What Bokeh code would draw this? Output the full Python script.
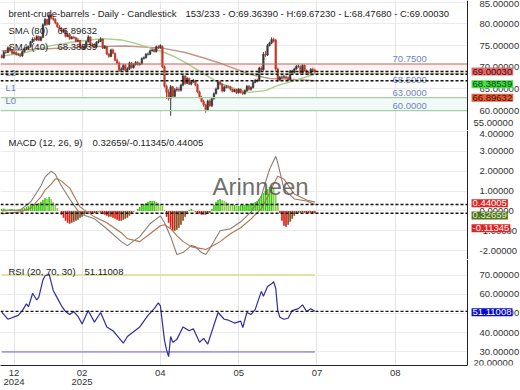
from bokeh.plotting import figure
from bokeh.layouts import column
from bokeh.models import (Range1d, LinearAxis, FixedTicker, PrintfTickFormatter, Grid,
                          Span, Label, BoxAnnotation, ColumnDataSource)
from bokeh.embed import file_html
from bokeh.resources import INLINE

FONT = "Liberation Sans"
FS = "9.5px"

# ---------------- data ----------------
opens = [72.6, 72.2, 73.5, 73.4, 74.5, 73.9, 73.2, 73.4, 72.9, 72.9,
         72.6, 73.6, 74.2, 74.4, 74.7, 75.9, 76.5, 76.3, 77.1, 76.2,
         76.9, 79.8, 81.0, 79.9, 82.0, 81.3, 81.1, 80.2, 79.3, 79.0,
         78.3, 78.5, 77.1, 77.5, 76.6, 76.9, 76.8, 76.0, 76.2, 74.6,
         74.3, 74.7, 75.9, 77.0, 75.2, 75.0, 74.7, 75.8, 76.0, 76.5,
         74.4, 74.8, 73.0, 72.5, 74.0, 73.2, 71.6, 71.0, 69.3, 69.5,
         70.4, 69.3, 69.6, 71.0, 69.9, 70.6, 71.1, 70.6, 70.8, 72.0,
         72.2, 73.0, 73.0, 73.8, 74.0, 73.6, 74.7, 74.5, 74.8, 70.1,
         65.6, 64.2, 62.8, 65.5, 63.3, 64.8, 64.9, 64.7, 65.9, 68.0,
         66.3, 67.4, 66.1, 66.6, 66.9, 65.9, 64.3, 63.1, 62.1, 61.3,
         60.2, 62.2, 61.1, 62.8, 63.9, 65.0, 66.6, 66.1, 64.5, 65.4,
         65.5, 65.4, 64.9, 64.4, 64.8, 64.1, 64.9, 64.2, 63.9, 64.6,
         65.6, 64.9, 65.3, 66.5, 67.0, 66.9, 69.8, 69.4, 73.0, 72.8,
         75.0, 75.6, 76.4, 76.2, 69.6, 67.1, 67.7, 67.7, 67.8, 67.6,
         67.1, 69.1, 68.8, 69.6, 70.2, 70.2, 68.6, 70.4, 69.2, 68.7,
         68.5, 69.5, 69.3639]
highs = [73.0, 73.8, 73.9, 74.8, 74.7, 74.1, 73.8, 73.7, 73.3, 73.2,
         73.9, 74.5, 74.8, 75.0, 76.1, 76.9, 77.0, 77.4, 77.3, 77.2,
         80.1, 81.4, 81.2, 82.6, 82.3, 81.8, 81.3, 80.4, 79.7, 79.2,
         78.9, 78.7, 77.9, 77.7, 77.2, 77.3, 77.0, 76.7, 76.3, 74.9,
         75.1, 76.1, 77.4, 77.1, 75.6, 75.5, 76.0, 76.4, 76.9, 76.6,
         75.1, 74.9, 73.3, 74.3, 74.3, 73.4, 72.0, 71.3, 70.0, 70.8,
         70.7, 70.0, 71.3, 71.2, 70.9, 71.4, 71.4, 71.1, 72.3, 72.5,
         73.3, 73.4, 74.1, 74.3, 74.3, 75.0, 75.1, 75.3, 75.0, 70.4,
         66.0, 64.9, 65.9, 65.7, 65.2, 65.5, 65.4, 66.2, 68.3, 68.1,
         67.8, 67.6, 66.9, 67.3, 67.1, 66.2, 64.6, 63.4, 62.5, 61.6,
         62.5, 62.6, 63.1, 64.2, 65.3, 66.9, 66.9, 66.3, 65.8, 65.9,
         65.8, 65.7, 65.1, 65.0, 65.0, 65.2, 65.1, 64.5, 64.9, 65.9,
         65.9, 65.6, 66.8, 67.3, 67.4, 70.1, 70.2, 73.5, 73.8, 75.4,
         75.9, 76.9, 76.8, 76.6, 69.9, 68.0, 68.1, 68.2, 68.1, 67.9,
         69.4, 69.4, 69.9, 70.5, 70.6, 70.4, 70.7, 70.6, 69.5, 69.0,
         69.8, 69.9, 69.6723]
lows = [72.0, 72.0, 73.1, 73.3, 73.6, 73.0, 73.0, 72.7, 72.6, 72.3,
        72.4, 73.4, 74.0, 74.2, 74.5, 75.6, 75.9, 76.1, 76.0, 76.0,
        76.7, 79.5, 79.6, 79.7, 81.0, 80.7, 79.9, 79.1, 78.7, 78.1,
        78.0, 76.9, 76.9, 76.3, 76.4, 76.5, 75.7, 75.8, 74.4, 74.0,
        74.1, 74.5, 75.7, 75.0, 74.8, 74.4, 74.5, 75.5, 75.8, 74.2,
        74.2, 72.8, 72.2, 72.3, 73.0, 71.4, 70.7, 68.9, 68.9, 69.3,
        69.0, 69.1, 69.4, 69.7, 69.7, 70.4, 70.4, 70.4, 70.6, 71.8,
        72.0, 72.7, 72.8, 73.6, 73.4, 73.4, 74.2, 74.3, 69.8, 65.3,
        62.7, 62.3, 58.8, 62.9, 63.0, 64.4, 64.3, 64.4, 65.6, 66.0,
        66.1, 65.9, 65.8, 66.4, 65.6, 64.0, 62.8, 61.9, 60.9, 59.5,
        60.0, 60.9, 60.8, 62.5, 63.7, 64.8, 65.8, 64.2, 64.3, 65.1,
        65.1, 64.6, 64.2, 64.2, 63.8, 63.9, 63.9, 63.6, 63.7, 64.4,
        64.6, 64.6, 65.1, 66.3, 66.5, 66.7, 69.0, 69.2, 72.4, 72.6,
        74.8, 75.3, 75.7, 69.2, 66.6, 66.8, 67.3, 67.4, 67.3, 66.8,
        66.9, 68.5, 68.6, 69.4, 69.9, 68.4, 68.4, 69.0, 68.5, 68.2,
        68.3, 69.1, 68.4768]
closes = [72.2, 73.5, 73.4, 74.5, 73.9, 73.2, 73.4, 72.9, 72.9, 72.6,
          73.6, 74.2, 74.4, 74.6, 75.9, 76.5, 76.3, 77.1, 76.2, 76.9,
          79.8, 81.0, 79.9, 82.0, 81.3, 81.1, 80.2, 79.3, 79.0, 78.3,
          78.5, 77.1, 77.5, 76.6, 76.9, 76.8, 76.0, 76.2, 74.6, 74.3,
          74.7, 75.9, 77.0, 75.2, 75.0, 74.7, 75.8, 76.0, 76.5, 74.4,
          74.8, 73.0, 72.5, 74.0, 73.2, 71.6, 71.0, 69.3, 69.5, 70.4,
          69.3, 69.6, 71.0, 69.9, 70.6, 71.1, 70.6, 70.8, 72.0, 72.2,
          73.0, 73.0, 73.8, 74.0, 73.6, 74.7, 74.5, 75.0, 70.1, 65.6,
          64.2, 62.8, 65.5, 63.3, 64.8, 64.9, 64.7, 65.9, 68.0, 66.3,
          67.4, 66.1, 66.6, 66.9, 65.9, 64.3, 63.1, 62.1, 61.3, 60.2,
          62.2, 61.1, 62.8, 63.9, 65.0, 66.6, 66.1, 64.5, 65.4, 65.5,
          65.4, 64.9, 64.4, 64.8, 64.1, 64.9, 64.2, 63.9, 64.6, 65.6,
          64.9, 65.3, 66.5, 67.0, 66.9, 69.8, 69.4, 73.0, 72.8, 75.0,
          75.6, 76.4, 76.0, 69.6, 67.1, 67.7, 67.7, 67.8, 67.6, 67.1,
          69.1, 68.8, 69.6, 70.2, 70.2, 68.6, 70.4, 69.2, 68.7, 68.5,
          69.5, 69.3, 69.0003]

sma40_idx = [0, 10, 24, 37, 49, 58, 65, 73, 79, 84, 89, 97, 105, 113, 120, 128, 134, 142, 152]
sma40 = [72.6, 73.2, 75.0, 76.0, 76.6, 76.3, 75.5, 74.3, 73.4, 72.4, 71.1, 68.8, 66.5, 65.1,
         64.2, 64.6, 65.8, 66.9, 68.38539]
sma80_idx = [0, 20, 40, 60, 78, 89, 97, 105, 113, 121, 130, 137, 145, 152]
sma80 = [73.8, 74.2, 74.7, 74.9, 74.4, 73.4, 72.3, 71.1, 69.7, 68.3, 67.4, 67.3, 67.1, 66.89632]

macd_idx = [0, 4, 9, 14, 19, 21, 24, 26, 27, 29, 33, 38, 45, 51, 58, 61, 67, 72, 77, 79,
            82, 85, 88, 92, 94, 97, 99, 101, 106, 111, 116, 121, 126, 130, 133, 134, 137, 142, 148, 152]
macd_line = [0.0, 0.02, 0.05, 0.45, 1.25, 1.7, 2.0, 1.85, 1.65, 1.25, 0.6, -0.15, -0.4, -0.9, -1.55,
             -1.75, -1.3, -0.65, -0.25, -0.6, -1.3, -2.2, -2.1, -1.75, -1.8, -2.1, -2.2, -1.9, -1.0,
             -0.9, -0.55, -0.05, 0.75, 2.1, 2.75, 2.4, 1.1, 0.6, 0.5, 0.32659]
signal_line = [-0.15, -0.1, -0.05, 0.12, 0.7, 1.05, 1.35, 1.6, 1.62, 1.5, 1.15, 0.2, -0.3, -0.6, -1.1,
               -1.4, -1.55, -1.15, -0.75, -0.7, -0.9, -1.25, -1.55, -1.8, -1.85, -1.9, -1.95, -1.85,
               -1.55, -1.15, -0.85, -0.4, 0.1, 0.9, 1.55, 1.75, 1.6, 0.85, 0.55, 0.44005]
hist = [0.10, 0.12, 0.10, 0.08, 0.10, 0.10, 0.08, 0.05, 0.06, 0.08,
        0.10, 0.15, 0.20, 0.25, 0.30, 0.30, 0.35, 0.35, 0.40, 0.45,
        0.55, 0.65, 0.60, 0.70, 0.60, 0.45, 0.30, 0.15, 0.00, -0.20,
        -0.35, -0.50, -0.60, -0.65, -0.60, -0.55, -0.50, -0.45, -0.35, -0.30,
        -0.20, -0.10, -0.05, -0.10, -0.15, -0.12, -0.10, -0.05, -0.08, -0.15,
        -0.20, -0.25, -0.30, -0.30, -0.35, -0.40, -0.45, -0.50, -0.50, -0.45,
        -0.40, -0.35, -0.25, -0.15, -0.05, 0.00, 0.10, 0.20, 0.30, 0.35,
        0.40, 0.45, 0.50, 0.50, 0.50, 0.45, 0.40, 0.35, 0.25, 0.05,
        -0.30, -0.60, -0.85, -1.00, -1.00, -0.95, -0.85, -0.70, -0.50, -0.30,
        -0.10, 0.05, 0.10, 0.05, -0.05, -0.10, -0.15, -0.20, -0.20, -0.20,
        -0.15, -0.10, 0.10, 0.30, 0.45, 0.55, 0.60, 0.55, 0.50, 0.45,
        0.40, 0.35, 0.30, 0.30, 0.25, 0.25, 0.30, 0.30, 0.30, 0.35,
        0.35, 0.40, 0.40, 0.45, 0.50, 0.60, 0.75, 0.90, 1.00, 1.10,
        1.20, 1.25, 1.15, 0.90, 0.40, -0.10, -0.50, -0.75, -0.80, -0.70,
        -0.55, -0.40, -0.25, -0.15, -0.10, -0.10, -0.08, -0.10, -0.10, -0.12,
        -0.10, -0.12, -0.11345]

rsi_idx = [0, 3, 8, 10, 12, 13, 15, 17, 18, 20, 21, 23, 25, 27, 29, 31, 33, 35, 37, 39,
           42, 45, 48, 51, 54, 56, 59, 61, 64, 67, 71, 74, 76, 77, 78, 79, 80, 81, 82, 83,
           85, 88, 91, 93, 96, 98, 100, 103, 105, 108, 110, 113, 116, 117, 119, 121, 123, 126,
           127, 129, 131, 132, 133, 134, 135, 137, 139, 141, 144, 146, 148, 150, 152]
rsi_vals = [50.7, 47.0, 49.0, 51.5, 55.0, 53.5, 60.5, 57.0, 58.5, 67.5, 69.5, 70.5, 62.0, 58.0,
            54.0, 51.0, 49.5, 51.0, 48.5, 44.5, 51.5, 45.5, 50.5, 43.0, 41.0, 38.5, 34.5, 38.0,
            40.5, 43.0, 49.0, 52.5, 55.5, 54.0, 45.0, 36.0, 31.0, 27.5, 38.0, 35.0, 36.5, 43.0,
            41.0, 42.0, 35.0, 37.0, 34.0, 44.0, 50.5, 47.0, 46.5, 45.0, 46.0, 42.7, 50.5, 49.5,
            52.0, 61.5, 59.0, 64.0, 65.5, 66.5, 63.0, 51.5, 48.0, 47.0, 47.5, 51.5, 52.5, 54.5,
            51.0, 52.5, 51.11008]

levels = [70.75, 68.5, 63.0, 60.0]
level_tags = ["", "L2", "L1", "L0"]
rsi_upper, rsi_lower = 70, 30

last_close, last_sma40, last_sma80 = 69.00030, 68.38539, 66.89632
last_macd, last_hist, last_signal = 0.32659, -0.11345, 0.44005
last_rsi = 51.11008

price_ticks = [60, 65, 70, 75, 80, 85]
macd_ticks = [-2, -1, 0, 1, 2, 3, 4]
rsi_ticks = [30, 40, 50, 60, 70]
xtick_pos = [6, 39, 77, 115, 153, 191]
xtick_labels = ["12", "02", "04", "05", "07", "08"]
year_pos = [6, 39]
year_labels = ["2024", "2025"]

# ---------------- styles / geometry ----------------
UP, DOWN = "#3a3a3a", "#c0392b"
AXIS_X = 226.1                      # bar slot where the value axis stands
xr = Range1d(-0.6, 251.8)


def base_fig(fh, yr, yticks):
    p = figure(frame_width=520, frame_height=fh, x_range=xr, y_range=Range1d(*yr),
               output_backend="svg", toolbar_location=None,
               x_axis_location=None, y_axis_location=None,
               min_border_left=0, min_border_right=0, min_border_top=0, min_border_bottom=0)
    p.outline_line_color = None
    p.background_fill_color = "white"
    p.border_fill_color = "white"
    for g in p.grid:
        g.visible = False
    p.add_layout(Grid(dimension=0, ticker=FixedTicker(ticks=xtick_pos), grid_line_color="#e4e4e4"))
    p.add_layout(Grid(dimension=1, ticker=FixedTicker(ticks=yticks), grid_line_color="#ececec"))
    return p


def value_axis(p, yticks):
    # white mask over the label strip, then the axis drawn on top of it
    p.add_layout(BoxAnnotation(left=AXIS_X, fill_color="white", fill_alpha=1.0, line_color=None))
    ax = LinearAxis(ticker=FixedTicker(ticks=yticks), formatter=PrintfTickFormatter(format="%.5f"),
                    fixed_location=AXIS_X,
                    axis_line_color="#222222", major_tick_line_color=None, minor_tick_line_color=None,
                    major_label_standoff=6, major_label_text_font=FONT, major_label_text_font_size=FS,
                    major_label_text_color="#333333")
    ax.level = "overlay"
    p.add_layout(ax, "right")


def separator(p):
    sep = LinearAxis(ticker=FixedTicker(ticks=[]), axis_line_color="#222222",
                     major_tick_line_color=None, minor_tick_line_color=None,
                     major_label_text_font_size="0px", major_label_standoff=0,
                     major_tick_out=0, major_tick_in=0)
    p.add_layout(sep, "below")


def txt(p, text, x, y, color="#222222", size=FS, **kw):
    p.add_layout(Label(x=x, y=y, x_units="screen", y_units="screen", text=text, text_font=FONT,
                       text_font_size=size, text_color=color, text_baseline="middle", **kw))


def badge(p, val, off, bg, fg):
    p.add_layout(Label(x=AXIS_X, y=val, x_offset=4, y_offset=off, text="%.5f" % val,
                       text_font=FONT, text_font_size=FS, text_color=fg, text_baseline="middle",
                       background_fill_color=bg, padding=1, level="overlay"))


def edge_label(p, text, y, off):
    p.add_layout(Label(x=AXIS_X, y=y, x_offset=6, y_offset=off, text=text, text_font=FONT,
                       text_font_size=FS, text_color="#333333", text_baseline="middle",
                       level="overlay"))


# ---------------- price panel ----------------
p1 = base_fig(130, (55.4, 85.4), price_ticks)
separator(p1)
p1.add_layout(BoxAnnotation(bottom=levels[1], top=levels[0], fill_color="#fff0f2", fill_alpha=1.0,
                            line_color=None, level="underlay"))
p1.add_layout(BoxAnnotation(bottom=levels[3], top=levels[2], fill_color="#f1faf8", fill_alpha=1.0,
                            line_color=None, level="underlay"))

p1.line(sma80_idx, sma80, line_color="#c4968a", line_width=1.4)
p1.line(sma40_idx, sma40, line_color="#a9cc8c", line_width=1.4)

body_top = [max(o, c) for o, c in zip(opens, closes)]
body_bot = [min(o, c) for o, c in zip(opens, closes)]
cand_col = [UP if c >= o else DOWN for o, c in zip(opens, closes)]
src = ColumnDataSource(dict(x=list(range(len(closes))), h=highs, l=lows, top=body_top,
                            bot=body_bot, col=cand_col))
p1.segment(x0="x", y0="l", x1="x", y1="h", line_color="col", line_width=1, source=src)
p1.vbar(x="x", width=0.8, top="top", bottom="bot", fill_color="col", line_color="col",
        line_width=0.5, source=src)

level_cols = ["#b9675a", "#9fd49f", "#9fd49f", "#9fd49f"]
level_text_off = [2, -9, 2, 2]
level_tag_off = [0, -4, 5, 5]
for v, tag, col, to, go in zip(levels, level_tags, level_cols, level_text_off, level_tag_off):
    p1.add_layout(Span(location=v, dimension="width", line_color=col, line_width=1.2))
    p1.add_layout(Label(x=189.7, y=v, y_offset=to, text="%.4f" % v, text_font=FONT,
                        text_font_size=FS, text_color="#7183bf", text_baseline="bottom"))
    if tag:
        p1.add_layout(Label(x=5, y=v, x_units="screen", y_offset=go, text=tag, text_font=FONT,
                            text_font_size=FS, text_color="#6f7fb3", text_baseline="bottom"))

for v in (last_close, last_sma40, last_sma80):
    p1.add_layout(Span(location=v, dimension="width", line_color="#111111", line_width=1.5,
                       line_dash="3 2"))

txt(p1, "brent-crude-barrels - Daily - Candlestick", 8, 117)
txt(p1, "153/233 - O:69.36390 - H:69.67230 - L:68.47680 - C:69.00030", 185, 117)
txt(p1, "SMA (80)", 8, 100)
txt(p1, "%.5f" % last_sma80, 57, 100)
txt(p1, "SMA (40)", 8, 84)
txt(p1, "%.5f" % last_sma40, 57, 84)

value_axis(p1, price_ticks)
edge_label(p1, "55.00000", 55.4, 8)
badge(p1, last_close, 0, "#e46a6a", "#4a0a0a")
badge(p1, last_sma40, -10, "#44dd44", "#0a3a0a")
badge(p1, last_sma80, -17, "#e2603e", "#4a0a00")

# ---------------- MACD panel ----------------
p2 = base_fig(129, (-2.45, 4.05), macd_ticks)
separator(p2)
hcol = []
for i, h in enumerate(hist):
    prev = hist[i - 1] if i > 0 else h
    if h >= 0:
        hcol.append("#3fcc10" if h >= prev else "#8fd052")
    else:
        hcol.append("#e01a10" if h < prev else "#8a4a1e")
hsrc = ColumnDataSource(dict(x=list(range(len(hist))), top=hist, col=hcol))
p2.vbar(x="x", width=0.8, top="top", bottom=0, fill_color="col", line_color=None, source=hsrc)
p2.line(macd_idx, signal_line, line_color="#b07348", line_width=1.1)
p2.line(macd_idx, macd_line, line_color="#8a7c72", line_width=1.1)
for v in (last_macd, last_hist):
    p2.add_layout(Span(location=v, dimension="width", line_color="#111111", line_width=1.5,
                       line_dash="3 2"))
p2.add_layout(Label(x=212, y=60, x_units="screen", y_units="screen", text="Arinneen",
                    text_font=FONT, text_font_size="24px", text_color="#555555", text_alpha=0.85))
txt(p2, "MACD (12, 26, 9)", 8, 117)
txt(p2, "%.5f/%.5f/%.5f" % (last_macd, last_hist, last_signal), 92, 117)
value_axis(p2, macd_ticks)
badge(p2, last_signal, -1, "#e52222", "#ffffff")
badge(p2, last_macd, -11, "#54731f", "#dff2c8")
badge(p2, last_hist, -15, "#e52222", "#ffffff")

# ---------------- RSI panel ----------------
p3 = base_fig(106, (22.9, 78.1), rsi_ticks)
ends = [0, len(closes) - 1]
p3.line(ends, [rsi_upper] * 2, line_color="#e6e0a6", line_width=2)
p3.line(ends, [rsi_lower] * 2, line_color="#a796ee", line_width=1.6)
p3.line(rsi_idx, rsi_vals, line_color="#2e2e9e", line_width=1.2)
p3.add_layout(Span(location=last_rsi, dimension="width", line_color="#111111", line_width=1.2,
                   line_dash="3 2"))
txt(p3, "RSI (20, 70, 30)", 8, 94)
txt(p3, "%.5f" % last_rsi, 84, 94)
value_axis(p3, rsi_ticks)
edge_label(p3, "20.00000", 22.9, 3)
badge(p3, last_rsi, -1, "#0a0ac8", "#ffffff")

mon_ax = LinearAxis(ticker=FixedTicker(ticks=xtick_pos),
                    major_label_overrides={p: l for p, l in zip(xtick_pos, xtick_labels)},
                    bounds=(xr.start, AXIS_X),
                    axis_line_color="#222222", major_tick_line_color=None, minor_tick_line_color=None,
                    major_tick_out=0, major_tick_in=0,
                    major_label_standoff=4, major_label_text_font=FONT, major_label_text_font_size=FS,
                    major_label_text_color="#333333")
yr_ax = LinearAxis(ticker=FixedTicker(ticks=year_pos),
                   major_label_overrides={p: l for p, l in zip(year_pos, year_labels)},
                   axis_line_color=None, major_tick_line_color=None, minor_tick_line_color=None,
                   major_tick_out=0, major_tick_in=0,
                   major_label_standoff=0, major_label_text_font=FONT, major_label_text_font_size=FS,
                   major_label_text_color="#333333")
p3.add_layout(mon_ax, "below")
p3.add_layout(yr_ax, "below")

layout = column(p1, p2, p3)
open("out.html", "w").write(file_html(layout, INLINE))
